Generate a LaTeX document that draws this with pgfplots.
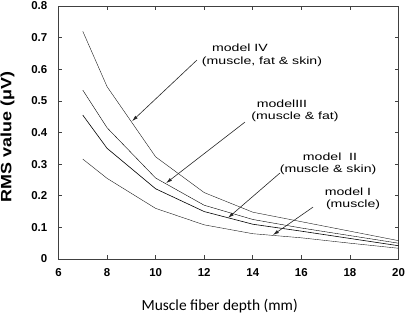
\documentclass[border=0pt]{standalone}
\usepackage{pgfplots}
\pgfplotsset{compat=1.18}
\usepackage{fontspec}
\setmainfont{Liberation Sans}
\newfontfamily\labelfont{Carlito}
\usetikzlibrary{arrows.meta}

% RMS value against muscle fibre depth for the four volume-conductor models
\pgfplotstableread{
depth  m1     m2     m3     m4
7      0.316  0.455  0.534  0.720
8      0.255  0.350  0.415  0.545
10     0.160  0.222  0.256  0.323
12     0.108  0.150  0.170  0.210
14     0.080  0.110  0.125  0.148
16     0.067  0.088  0.098  0.118
18     0.050  0.065  0.074  0.088
20     0.034  0.042  0.050  0.058
}\rmsdata

\newcommand{\ann}[1]{\fontsize{10.5}{12}\selectfont\scalebox{1.35}[1]{#1}}

\begin{document}
\begin{tikzpicture}
\useasboundingbox (-58.5bp,-57bp) rectangle (348.5bp,259bp);
\begin{axis}[
  scale only axis, width=340bp, height=253bp,
  xmin=6, xmax=20, ymin=0, ymax=0.8,
  xtick={6,8,10,12,14,16,18,20},
  ytick={0,0.1,0.2,0.3,0.4,0.5,0.6,0.7,0.8},
  xticklabels={6,8,10,12,14,16,18,20},
  yticklabels={0,0.1,0.2,0.3,0.4,0.5,0.6,0.7,0.8},
  tick align=inside, major tick length=4bp,
  axis line style={black!75, line width=0.9pt},
  tick style={black!75, line width=0.7pt},
  ticklabel style={font=\fontsize{11.5}{13}\selectfont\bfseries},
  yticklabel style={anchor=east, inner sep=0pt, xshift=-11bp},
  xticklabel style={anchor=north, inner sep=0pt, yshift=-9bp},
  xlabel={\labelfont\fontsize{15.5}{18}\selectfont Muscle fiber depth (mm)},
  xlabel style={at={(rel axis cs:0.474,-0.186)}, anchor=center},
  ylabel={\fontsize{15}{18}\selectfont\bfseries\scalebox{1.2}[1]{RMS value (μV)}},
  ylabel style={at={(rel axis cs:-0.150,0.482)}, anchor=center},
  cycle list={{black!90, line width=0.6pt, no markers}},
  clip=false,
]
\addplot table[x=depth, y=m1] {\rmsdata};
\addplot table[x=depth, y=m2] {\rmsdata};
\addplot table[x=depth, y=m3] {\rmsdata};
\addplot table[x=depth, y=m4] {\rmsdata};

% annotations
\node at (axis cs:13.47,0.667) {\ann{model IV}};
\node at (axis cs:14.38,0.623) {\ann{(muscle, fat \& skin)}};
\draw[black!85, line width=0.6pt, -{Latex[length=6bp,width=3.5bp]}] (axis cs:11.70,0.629) -- (axis cs:9.03,0.436);

\node at (axis cs:15.20,0.490) {\ann{modelIII}};
\node at (axis cs:15.74,0.449) {\ann{(muscle \& fat)}};
\draw[black!85, line width=0.6pt, -{Latex[length=6bp,width=3.5bp]}] (axis cs:13.68,0.433) -- (axis cs:10.43,0.240);

\node at (axis cs:17.18,0.323) {\ann{model\ \ II}};
\node at (axis cs:17.10,0.281) {\ann{(muscle \& skin)}};
\draw[black!85, line width=0.6pt, -{Latex[length=6bp,width=3.5bp]}] (axis cs:15.12,0.272) -- (axis cs:12.98,0.130);

\node at (axis cs:17.92,0.212) {\ann{model I}};
\node at (axis cs:18.13,0.171) {\ann{(muscle)}};
\draw[black!85, line width=0.6pt, -{Latex[length=6bp,width=3.5bp]}] (axis cs:16.48,0.164) -- (axis cs:14.83,0.076);
\end{axis}
\end{tikzpicture}
\end{document}
